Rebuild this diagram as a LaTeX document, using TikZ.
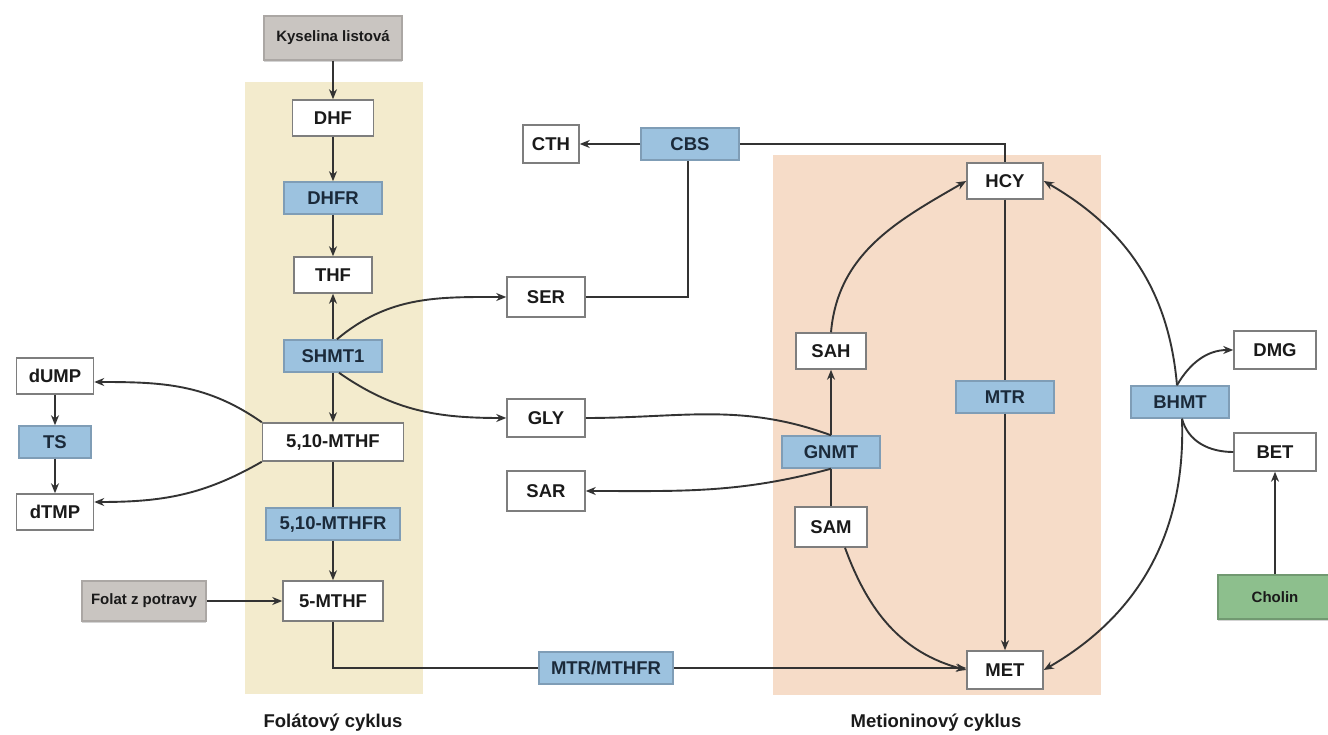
\documentclass[tikz,border=0pt]{standalone}
\usepackage{fontspec}
\setmainfont{Liberation Sans}
\usetikzlibrary{arrows.meta,shadows}
\definecolor{folbg}{HTML}{F3EBCD}
\definecolor{metbg}{HTML}{F6DCC8}
\definecolor{enzfill}{HTML}{9CC2DF}
\definecolor{enzline}{HTML}{7F9DB6}
\definecolor{srcfill}{HTML}{C9C5C1}
\definecolor{grnfill}{HTML}{8DBF8D}
\definecolor{boxline}{HTML}{7E7E7E}
\definecolor{lne}{HTML}{333333}
\definecolor{txt}{HTML}{1A1A1A}
\definecolor{enztxt}{HTML}{1B2A3A}
\tikzset{
  box/.style={draw=boxline, line width=1.5pt, fill=white, minimum height=36pt,
    minimum width=78pt, inner sep=2pt, text=txt, font=\fontsize{18.5}{20}\selectfont\bfseries},
  enz/.style={box, fill=enzfill, draw=enzline, minimum height=32pt, minimum width=98pt, text=enztxt},
  src/.style={box, fill=srcfill, draw=srcfill!85!black, minimum height=44pt,
    font=\fontsize{15}{17}\selectfont\bfseries,
    drop shadow={opacity=0.35, shadow xshift=0pt, shadow yshift=-2pt}},
  arr/.style={-{Stealth[length=10pt,width=8pt]}, line width=1.9pt, draw=lne},
  ln/.style={line width=1.9pt, draw=lne},
  lbl/.style={text=txt, font=\fontsize{18.5}{20}\selectfont\bfseries},
}
\begin{document}
\begin{tikzpicture}[x=1pt,y=1pt]
    \useasboundingbox (0,0) rectangle (1328,734);
    % cycles
    \fill[folbg] (245,40) rectangle (423,652);
    \fill[metbg] (773,39) rectangle (1101,579);
    \node[lbl] (folcyk) at (333,11) {Folátový cyklus};
    \node[lbl] (metcyk) at (936,11) {Metioninový cyklus};
    % folate side
    \node[src, minimum width=138pt] (kys) at (333,696) {Kyselina listová};
    \node[box, minimum width=81pt] (dhf) at (333,616) {DHF};
    \node[enz] (dhfr) at (333,536) {DHFR};
    \node[box] (thf) at (333,459) {THF};
    \node[enz] (shmt) at (333,378) {SHMT1};
    \node[box, minimum width=141pt, minimum height=38pt] (mthf) at (333,292) {5,10-MTHF};
    \node[enz, minimum width=134pt] (mthfr) at (333,210) {5,10-MTHFR};
    \node[box, minimum width=100pt, minimum height=40pt] (fmthf) at (333,133) {5-MTHF};
    \node[src, minimum width=124pt, minimum height=40pt] (folat) at (144,133) {Folat z potravy};
    \node[box, minimum width=77pt] (dump) at (55,358) {dUMP};
    \node[enz, minimum width=72pt] (ts) at (55,292) {TS};
    \node[box, minimum width=77pt] (dtmp) at (55,222) {dTMP};
    % middle
    \node[box, minimum width=56pt, minimum height=38pt] (cth) at (551,590) {CTH};
    \node[enz] (cbs) at (690,590) {CBS};
    \node[box, minimum height=40pt] (ser) at (546,437) {SER};
    \node[box, minimum height=38pt] (gly) at (546,316) {GLY};
    \node[box, minimum height=40pt] (sar) at (546,243) {SAR};
    \node[enz, minimum width=134pt] (mtrmthfr) at (606,66) {MTR/MTHFR};
    % methionine side
    \node[box, minimum width=76pt] (hcy) at (1005,553) {HCY};
    \node[box, minimum width=70pt] (sah) at (831,383) {SAH};
    \node[enz] (mtr) at (1005,337) {MTR};
    \node[enz] (gnmt) at (831,282) {GNMT};
    \node[box, minimum width=72pt, minimum height=40pt] (sam) at (831,207) {SAM};
    \node[box, minimum width=76pt, minimum height=38pt] (met) at (1005,64) {MET};
    \node[enz] (bhmt) at (1180,332) {BHMT};
    \node[box, minimum width=82pt, minimum height=38pt] (dmg) at (1275,384) {DMG};
    \node[box, minimum width=82pt, minimum height=38pt] (bet) at (1275,282) {BET};
    \node[src, fill=grnfill, draw=grnfill!80!black, minimum width=114pt] (cholin) at (1275,137) {Cholin};
    % folate connectors
    \draw[arr] (kys) -- (dhf);
    \draw[arr] (dhf) -- (dhfr);
    \draw[arr] (dhfr) -- (thf);
    \draw[arr] (shmt) -- (thf);
    \draw[arr] (shmt) -- (mthf);
    \draw[ln] (mthf) -- (mthfr);
    \draw[arr] (mthfr) -- (fmthf);
    \draw[arr] (folat) -- (fmthf);
    \draw[arr] ([xshift=4pt]shmt.north) to[out=40,in=180] (ser.west);
    \draw[arr] ([xshift=6pt]shmt.south) to[out=-35,in=180] (gly.west);
    \draw[arr] (mthf.north west) to[out=145,in=0] ([yshift=-6pt]dump.east);
    \draw[arr] (mthf.south west) to[out=-150,in=0] ([yshift=10pt]dtmp.east);
    \draw[arr] (dump) -- (ts);
    \draw[arr] (ts) -- (dtmp);
    \draw[ln] (fmthf.south) |- (mtrmthfr.west);
    \draw[arr] (mtrmthfr.east) -- (met.west |- mtrmthfr.east);
    % middle connectors
    \draw[arr] (cbs) -- (cth);
    \draw[ln] (cbs.east) -| (hcy.north);
    \draw[ln] (ser.east) -| ([xshift=-2pt]cbs.south);
    \draw[ln] (gly.east) to[out=0,in=160] (gnmt.north);
    \draw[arr] (gnmt.south) to[out=195,in=0] (sar.east);
    % methionine connectors
    \draw[ln] (sam) -- (gnmt);
    \draw[arr] (gnmt) -- (sah);
    \draw[arr] (sah.north) to[out=85,in=210] (hcy.west);
    \draw[ln] (hcy) -- (mtr);
    \draw[arr] (mtr) -- (met);
    \draw[arr] ([xshift=14pt]sam.south) to[out=-70,in=165] (met.west);
    \draw[arr] ([xshift=-3pt]bhmt.north) to[out=95,in=-30] (hcy.east);
    \draw[arr] ([xshift=2pt]bhmt.south) to[out=-88,in=30] (met.east);
    \draw[arr] ([xshift=-3pt]bhmt.north) to[out=60,in=180] (dmg.west);
    \draw[ln] (bet.west) to[out=180,in=-75] ([xshift=2pt]bhmt.south);
    \draw[arr] (cholin) -- (bet);
\end{tikzpicture}
\end{document}
